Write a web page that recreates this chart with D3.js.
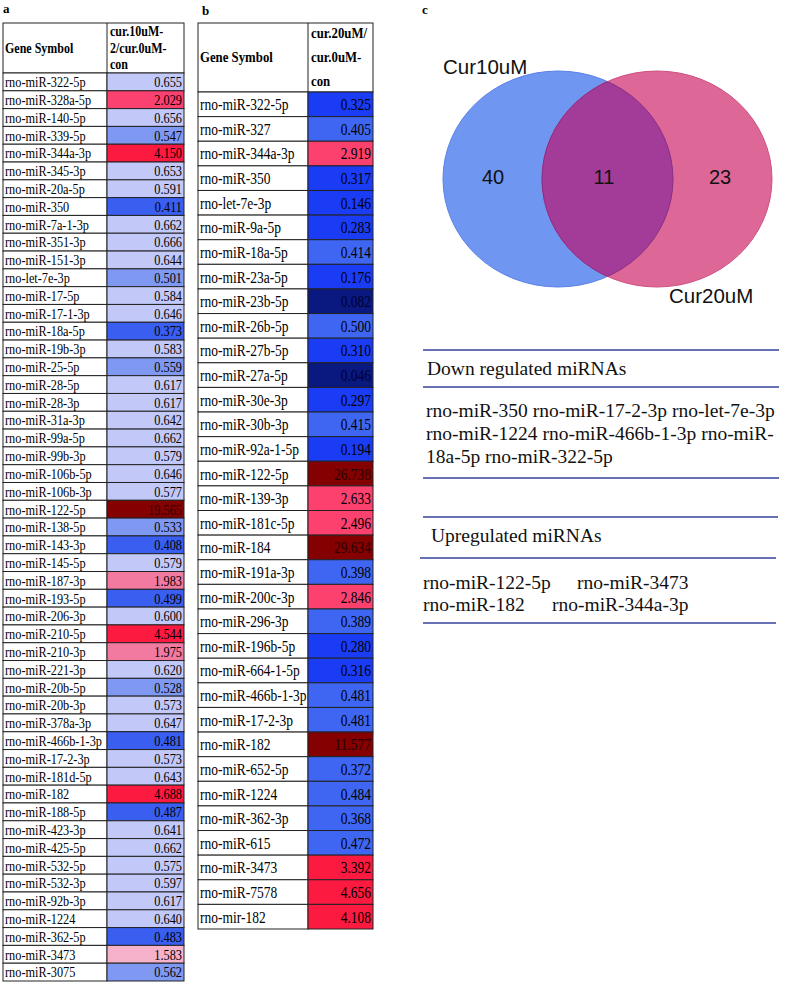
<!DOCTYPE html>
<html>
<head>
<meta charset="utf-8">
<script src="https://cdn.jsdelivr.net/npm/d3@7"></script>
<style>
html,body{margin:0;padding:0;background:#fff;}
svg{display:block;}
</style>
</head>
<body>
<div id="chart"></div>
<script>
// ---------- DATA ----------
const genesA = ["rno-miR-322-5p","rno-miR-328a-5p","rno-miR-140-5p","rno-miR-339-5p","rno-miR-344a-3p","rno-miR-345-3p","rno-miR-20a-5p","rno-miR-350","rno-miR-7a-1-3p","rno-miR-351-3p","rno-miR-151-3p","rno-let-7e-3p","rno-miR-17-5p","rno-miR-17-1-3p","rno-miR-18a-5p","rno-miR-19b-3p","rno-miR-25-5p","rno-miR-28-5p","rno-miR-28-3p","rno-miR-31a-3p","rno-miR-99a-5p","rno-miR-99b-3p","rno-miR-106b-5p","rno-miR-106b-3p","rno-miR-122-5p","rno-miR-138-5p","rno-miR-143-3p","rno-miR-145-5p","rno-miR-187-3p","rno-miR-193-5p","rno-miR-206-3p","rno-miR-210-5p","rno-miR-210-3p","rno-miR-221-3p","rno-miR-20b-5p","rno-miR-20b-3p","rno-miR-378a-3p","rno-miR-466b-1-3p","rno-miR-17-2-3p","rno-miR-181d-5p","rno-miR-182","rno-miR-188-5p","rno-miR-423-3p","rno-miR-425-5p","rno-miR-532-5p","rno-miR-532-3p","rno-miR-92b-3p","rno-miR-1224","rno-miR-362-5p","rno-miR-3473","rno-miR-3075"];
const valuesA = [0.655,2.029,0.656,0.547,4.150,0.653,0.591,0.411,0.662,0.666,0.644,0.501,0.584,0.646,0.373,0.583,0.559,0.617,0.617,0.642,0.662,0.579,0.646,0.577,19.565,0.533,0.408,0.579,1.983,0.499,0.600,4.544,1.975,0.620,0.528,0.573,0.647,0.481,0.573,0.643,4.688,0.487,0.641,0.662,0.575,0.597,0.617,0.640,0.483,1.583,0.562];
const headerA = ["Gene Symbol", ["cur.10uM-","2/cur.0uM-","con"]];

const genesB = ["rno-miR-322-5p","rno-miR-327","rno-miR-344a-3p","rno-miR-350","rno-let-7e-3p","rno-miR-9a-5p","rno-miR-18a-5p","rno-miR-23a-5p","rno-miR-23b-5p","rno-miR-26b-5p","rno-miR-27b-5p","rno-miR-27a-5p","rno-miR-30e-3p","rno-miR-30b-3p","rno-miR-92a-1-5p","rno-miR-122-5p","rno-miR-139-3p","rno-miR-181c-5p","rno-miR-184","rno-miR-191a-3p","rno-miR-200c-3p","rno-miR-296-3p","rno-miR-196b-5p","rno-miR-664-1-5p","rno-miR-466b-1-3p","rno-miR-17-2-3p","rno-miR-182","rno-miR-652-5p","rno-miR-1224","rno-miR-362-3p","rno-miR-615","rno-miR-3473","rno-miR-7578","rno-mir-182"];
const valuesB = [0.325,0.405,2.919,0.317,0.146,0.283,0.414,0.176,0.082,0.500,0.310,0.046,0.297,0.415,0.194,26.738,2.633,2.496,29.634,0.398,2.846,0.389,0.280,0.316,0.481,0.481,11.577,0.372,0.484,0.368,0.472,3.392,4.656,4.108];
const headerB = ["Gene Symbol", ["cur.20uM/","cur.0uM-","con"]];

const thresholdsA = [0.5, 0.57, 1.0, 1.9, 2.0, 3.0, 10];
const thresholdsB = [0.1, 0.35, 1.0, 3.0, 10];

const vennSets = ["Cur10uM", "Cur20uM"];
const vennCounts = [40, 11, 23];

const downTitle = "Down regulated miRNAs";
const downLines = ["rno-miR-350 rno-miR-17-2-3p rno-let-7e-3p", "rno-miR-1224 rno-miR-466b-1-3p rno-miR-", "18a-5p rno-miR-322-5p"];
const upTitle = "Upregulated miRNAs";
const upLines = [["rno-miR-122-5p", "rno-miR-3473"], ["rno-miR-182", "rno-miR-344a-3p"]];

// ---------- DRAW ----------
const W = 786, H = 985;
const svg = d3.select("#chart").append("svg").attr("width", W).attr("height", H);
const serif = "'Liberation Serif','Times New Roman',serif";
const sans = "'Liberation Sans',Arial,Helvetica,sans-serif";

const colorA = d3.scaleThreshold().domain(thresholdsA)
  .range(["#3a5ef0","#7f98f2","#c2c9f8","#f6b2cb","#f27aa0","#fb416f","#fd1a41","#850000"]);
const colorB = d3.scaleThreshold().domain(thresholdsB)
  .range(["#0a1980","#1b3cf5","#3f66f2","#fd416f","#fd1a41","#850000"]);

function drawTable(cfg) {
  const g = svg.append("g");
  const n = cfg.genes.length;
  const y = d3.scaleBand().domain(d3.range(n)).range([cfg.top + cfg.headH, cfg.bottom]);
  const bw = y.bandwidth();
  const sy = cfg.stretch;
  // panel letter
  g.append("text").attr("x", cfg.letterX).attr("y", cfg.letterY).text(cfg.letter)
    .attr("font-family", serif).attr("font-weight", "bold").attr("font-size", 13);
  // header
  g.append("rect").attr("x", cfg.x0).attr("y", cfg.top).attr("width", cfg.x2 - cfg.x0).attr("height", cfg.headH)
    .attr("fill", "#fff").attr("stroke", "#222").attr("stroke-width", 1);
  g.append("line").attr("x1", cfg.x1).attr("x2", cfg.x1).attr("y1", cfg.top).attr("y2", cfg.top + cfg.headH)
    .attr("stroke", "#222");
  g.append("text").attr("transform", `translate(${cfg.x0 + 2},${cfg.top + cfg.headH / 2 + 4.5}) scale(1,${sy})`)
    .text(cfg.header[0])
    .attr("font-family", serif).attr("font-weight", "bold").attr("font-size", cfg.headFont);
  g.append("g").selectAll("text").data(cfg.header[1]).join("text")
    .attr("transform", (d, i) => `translate(${cfg.x1 + 3},${cfg.top + cfg.headH / 2 + 4.5 + (i - 1) * cfg.headLine}) scale(1,${sy})`)
    .text(d => d)
    .attr("font-family", serif).attr("font-weight", "bold").attr("font-size", cfg.headFont);
  // rows
  const rows = g.append("g").selectAll("g").data(cfg.genes.map((d, i) => ({gene: d, v: cfg.values[i], i})))
    .join("g").attr("transform", d => `translate(0,${y(d.i)})`);
  rows.append("rect").attr("x", cfg.x0).attr("width", cfg.x1 - cfg.x0).attr("height", bw)
    .attr("fill", "#fff").attr("stroke", "#222").attr("stroke-width", 1);
  rows.append("rect").attr("x", cfg.x1).attr("width", cfg.x2 - cfg.x1).attr("height", bw)
    .attr("fill", d => cfg.color(d.v)).attr("stroke", "#222").attr("stroke-width", 1);
  const by = bw / 2 + cfg.font * 0.36 * sy;
  rows.append("text").attr("transform", `translate(${cfg.x0 + 2},${by}) scale(1,${sy})`).text(d => d.gene)
    .attr("font-family", serif).attr("font-size", cfg.font).attr("fill", "#000");
  rows.append("text").attr("transform", `translate(${cfg.x2 - 2},${by}) scale(1,${sy})`).attr("text-anchor", "end")
    .text(d => d3.format(".3f")(d.v))
    .attr("font-family", serif).attr("font-size", cfg.font)
    .attr("fill", d => d.v < 0.1 ? "#000033" : (d.v > 10 ? "#2a0000" : "#000"));
}

drawTable({genes: genesA, values: valuesA, header: headerA, color: colorA, letter: "a", letterX: 3, letterY: 13,
  x0: 3, x1: 107, x2: 184, top: 23, headH: 50, bottom: 981, font: 12.3, headFont: 12, headLine: 16.5, stretch: 1.2});
drawTable({genes: genesB, values: valuesB, header: headerB, color: colorB, letter: "b", letterX: 202, letterY: 15,
  x0: 198, x1: 308, x2: 373, top: 23, headH: 69, bottom: 929, font: 13.5, headFont: 12.8, headLine: 24, stretch: 1.22});

// ---------- Venn ----------
const vg = svg.append("g");
vg.append("text").attr("x", 422).attr("y", 14).text("c")
  .attr("font-family", serif).attr("font-weight", "bold").attr("font-size", 13);
const ell = [{cx: 558, cy: 179, rx: 115, ry: 108}, {cx: 657, cy: 179, rx: 115, ry: 108}];
const defs = svg.append("defs");
defs.append("clipPath").attr("id", "clipL").append("ellipse")
  .attr("cx", ell[0].cx).attr("cy", ell[0].cy).attr("rx", ell[0].rx).attr("ry", ell[0].ry);
defs.append("clipPath").attr("id", "clipR").append("ellipse")
  .attr("cx", ell[1].cx).attr("cy", ell[1].cy).attr("rx", ell[1].rx).attr("ry", ell[1].ry);
vg.append("ellipse").attr("cx", ell[0].cx).attr("cy", ell[0].cy).attr("rx", ell[0].rx).attr("ry", ell[0].ry)
  .attr("fill", "#6f96f1").attr("stroke", "#5a80e6").attr("stroke-width", 1);
vg.append("ellipse").attr("cx", ell[1].cx).attr("cy", ell[1].cy).attr("rx", ell[1].rx).attr("ry", ell[1].ry)
  .attr("fill", "#dd6897").attr("stroke", "#cf4f80").attr("stroke-width", 1);
vg.append("ellipse").attr("cx", ell[1].cx).attr("cy", ell[1].cy).attr("rx", ell[1].rx).attr("ry", ell[1].ry)
  .attr("clip-path", "url(#clipL)")
  .attr("fill", "#a33c98").attr("stroke", "#8a2e86").attr("stroke-width", 1);
vg.append("ellipse").attr("cx", ell[0].cx).attr("cy", ell[0].cy).attr("rx", ell[0].rx).attr("ry", ell[0].ry)
  .attr("clip-path", "url(#clipR)")
  .attr("fill", "none").attr("stroke", "#8a2e86").attr("stroke-width", 1);
const countX = [493, 604, 720];
vg.selectAll("text.cnt").data(vennCounts).join("text").attr("class", "cnt")
  .attr("x", (d, i) => countX[i]).attr("y", 184).attr("text-anchor", "middle").text(d => d)
  .attr("font-family", sans).attr("font-size", 20).attr("fill", "#111");
vg.append("text").attr("x", 443).attr("y", 74).text(vennSets[0])
  .attr("font-family", sans).attr("font-size", 20.5).attr("fill", "#111");
vg.append("text").attr("x", 669).attr("y", 303).text(vennSets[1])
  .attr("font-family", sans).attr("font-size", 20.5).attr("fill", "#111");

// ---------- miRNA lists ----------
const lg = svg.append("g");
const lineCol = "#34419a";
const hl = [[423,779,350],[423,779,387],[423,779,478],[423,778,517],[420,776,558],[423,776,623]];
lg.selectAll("line").data(hl).join("line")
  .attr("x1", d => d[0]).attr("x2", d => d[1]).attr("y1", d => d[2]).attr("y2", d => d[2])
  .attr("stroke", lineCol).attr("stroke-width", 1.6);
const tf = 19.5;
lg.append("text").attr("x", 427).attr("y", 375).text(downTitle)
  .attr("font-family", serif).attr("font-size", tf).attr("fill", "#111");
lg.selectAll("text.dl").data(downLines).join("text").attr("class", "dl")
  .attr("x", 426).attr("y", (d, i) => 417 + i * 23).text(d => d)
  .attr("font-family", serif).attr("font-size", tf).attr("fill", "#111");
lg.append("text").attr("x", 431).attr("y", 542).text(upTitle)
  .attr("font-family", serif).attr("font-size", tf).attr("fill", "#111");
const upX = [[423, 577], [423, 552]];
upLines.forEach((pair, r) => {
  pair.forEach((t, c) => {
    lg.append("text").attr("x", upX[r][c]).attr("y", 589 + r * 22).text(t)
      .attr("font-family", serif).attr("font-size", tf).attr("fill", "#111");
  });
});
</script>
</body>
</html>
